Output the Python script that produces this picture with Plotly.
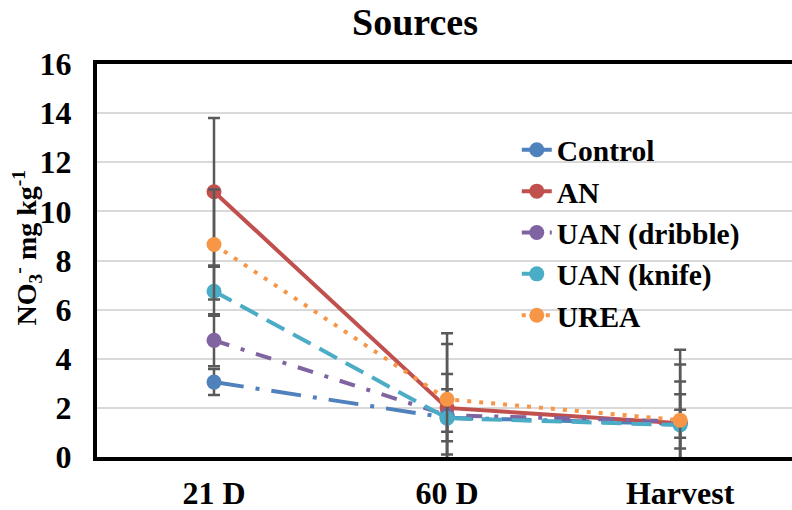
import plotly.graph_objects as go

# Sampling times and nitrate values (mg kg-1) per N source
stages = ["21 D", "60 D", "Harvest"]
control = [3.05, 1.60, 1.35]
an = [10.80, 2.00, 1.37]
uan_dribble = [4.75, 1.70, 1.45]
uan_knife = [6.75, 1.58, 1.30]
urea = [8.65, 2.35, 1.50]

# Standard errors shown as error bars
control_err = [0.53, 0.57, 0.57]
an_err = [3.00, 3.04, 3.00]
uan_dribble_err = [1.06, 1.06, 1.10]
uan_knife_err = [1.00, 1.80, 1.77]
urea_err = [2.24, 2.25, 2.27]

y_ticks = [0, 2, 4, 6, 8, 10, 12, 14, 16]

FONT = "Liberation Serif"
x_pos = list(range(len(stages)))

series = [
    ("Control", control, control_err, "#4F81BD", "30px,12px,4px,12px"),
    ("AN", an, an_err, "#C0504D", "solid"),
    ("UAN (dribble)", uan_dribble, uan_dribble_err, "#8064A2", "16px,12px,4px,12px"),
    ("UAN (knife)", uan_knife, uan_knife_err, "#4BACC6", "20px,10px"),
    ("UREA", urea, urea_err, "#F79646", "4px,8px"),
]

fig = go.Figure()
for name, vals, errs, color, dash in series:
    fig.add_trace(go.Scatter(
        x=x_pos, y=vals, name=f"<b>{name}</b>", mode="lines+markers",
        line=dict(color=color, width=4, dash=dash),
        marker=dict(color=color, size=15),
        error_y=dict(type="data", array=errs, visible=True,
                     color="#595959", thickness=2.5, width=6),
    ))

fig.update_layout(
    width=792, height=510,
    margin=dict(l=97, r=0, t=64, b=53, autoexpand=False),
    paper_bgcolor="white", plot_bgcolor="white",
    font=dict(family=FONT, size=25, color="black"),
    title=dict(text="<b>Sources</b>", x=0.524, xanchor="center",
               y=0.957, yanchor="middle",
               font=dict(family=FONT, size=38, color="black")),
    legend=dict(x=0.604, y=0.847, xanchor="left", yanchor="top",
                bgcolor="rgba(0,0,0,0)",
                font=dict(family=FONT, size=29.5, color="black")),
    showlegend=True,
)

# Rotated y-axis title
fig.add_annotation(
    text="<b>NO<sub>3</sub><sup>-</sup> mg kg<sup>-1</sup></b>",
    xref="paper", yref="paper", x=-0.1, y=0.532,
    xanchor="center", yanchor="middle", textangle=-90, showarrow=False,
    font=dict(family=FONT, size=28, color="black"),
)

fig.update_xaxes(
    range=[-0.502, 2.48], tickvals=x_pos,
    ticktext=[f"<b>{s}</b>" for s in stages],
    showline=True, linecolor="black", linewidth=4, mirror=True,
    showgrid=False, zeroline=False, ticks="", automargin=False,
    tickfont=dict(family=FONT, size=32, color="black"),
    ticklabelstandoff=5,
)
fig.update_yaxes(
    range=[0, 16], tickvals=y_ticks,
    ticktext=[f"<b>{v}</b>" for v in y_ticks],
    showline=True, linecolor="black", linewidth=4, mirror=False,
    showgrid=True, gridcolor="#D9D9D9", gridwidth=1.5,
    zeroline=False, ticks="", automargin=False,
    tickfont=dict(family=FONT, size=32, color="black"),
    ticklabelstandoff=15,
)

fig.write_html("out.html")
